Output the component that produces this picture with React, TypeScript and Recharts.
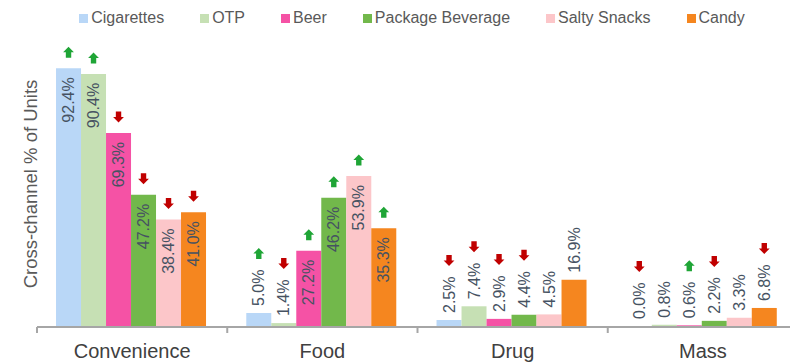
import React from 'react';
import { BarChart, Bar, XAxis, YAxis, LabelList } from 'recharts';

const categories = ['Convenience', 'Food', 'Drug', 'Mass'];

const seriesNames = ['Cigarettes', 'OTP', 'Beer', 'Package Beverage', 'Salty Snacks', 'Candy'];
const seriesColors = ['#B9D7F7', '#C6E0B4', '#F552A5', '#72B84B', '#FCC6C9', '#F5861F'];

const cigarettes = [92.4, 5.0, 2.5, 0.0];
const otp = [90.4, 1.4, 7.4, 0.8];
const beer = [69.3, 27.2, 2.9, 0.6];
const packageBeverage = [47.2, 46.2, 4.4, 2.2];
const saltySnacks = [38.4, 53.9, 4.5, 3.3];
const candy = [41.0, 35.3, 16.9, 6.8];

type Dir = 'up' | 'down' | null;
const cigarettesArrows: Dir[] = ['up', 'up', 'down', 'down'];
const otpArrows: Dir[] = ['up', 'down', 'down', null];
const beerArrows: Dir[] = ['down', 'up', 'down', 'up'];
const packageBeverageArrows: Dir[] = ['down', 'up', 'down', 'down'];
const saltySnacksArrows: Dir[] = ['down', 'up', null, null];
const candyArrows: Dir[] = ['down', 'up', null, 'down'];

const seriesValues = [cigarettes, otp, beer, packageBeverage, saltySnacks, candy];
const seriesArrows = [cigarettesArrows, otpArrows, beerArrows, packageBeverageArrows, saltySnacksArrows, candyArrows];
const keys = ['s0', 's1', 's2', 's3', 's4', 's5'];

const data = categories.map((name, i) => {
  const row: Record<string, any> = { name };
  keys.forEach((k, j) => {
    row[k] = seriesValues[j][i];
  });
  return row;
});

const FONT = '"Liberation Sans", Arial, sans-serif';
const CHART_W = 800;
const CHART_H = 362;
const X_H = 35;
const MARGIN = { top: 47, right: 2, bottom: 0, left: 0 };
const Y_W = 37;
const PLOT_BOTTOM = CHART_H - MARGIN.bottom - X_H;
const BAND = (CHART_W - MARGIN.left - MARGIN.right - Y_W) / categories.length;
const LABEL_SIZE = 16;

const fmt = (v: number) => v.toFixed(1) + '%';
const textLen = (s: string) => {
  let w = 0;
  for (const c of s) {
    if (c === '.') w += 0.278;
    else if (c === '%') w += 0.889;
    else w += 0.556;
  }
  return w * LABEL_SIZE;
};

const arrowPath = (cx: number, cy: number, dir: Dir) => {
  const hw = 5.4;
  const sw = 2.7;
  const h = 5.5;
  if (dir === 'up') {
    return `M${cx},${cy - h} L${cx + hw},${cy} L${cx + sw},${cy} L${cx + sw},${cy + h} L${cx - sw},${cy + h} L${cx - sw},${cy} L${cx - hw},${cy} Z`;
  }
  return `M${cx},${cy + h} L${cx + hw},${cy} L${cx + sw},${cy} L${cx + sw},${cy - h} L${cx - sw},${cy - h} L${cx - sw},${cy} L${cx - hw},${cy} Z`;
};

const makeLabel = (arrows: Dir[]) => (props: any) => {
  const { x, y, width, value, index } = props;
  const v = Number(value);
  const cx = Number(x) + Number(width) / 2;
  const top = Number(y);
  const s = fmt(v);
  const inside = v > 20;
  const ty = inside ? top + 9 : top - 7;
  const dir = arrows[index];
  const arrowCy = inside ? top - 16 : top - 7 - textLen(s) - 16;
  return (
    <g>
      <text
        x={cx}
        y={ty}
        transform={`rotate(-90, ${cx}, ${ty})`}
        textAnchor={inside ? 'end' : 'start'}
        dominantBaseline="central"
        fontFamily={FONT}
        fontSize={LABEL_SIZE}
        fill="#465262"
      >
        {s}
      </text>
      {dir && (
        <path d={arrowPath(cx, arrowCy, dir)} fill={dir === 'up' ? '#1FA536' : '#C00000'} />
      )}
    </g>
  );
};

const CategoryTick = (props: any) => {
  const { x, payload, index } = props;
  const cx = Number(x);
  const left = cx - BAND / 2;
  const right = cx + BAND / 2;
  return (
    <g>
      <line x1={left} y1={PLOT_BOTTOM} x2={left} y2={PLOT_BOTTOM + 6} stroke="#A6A6A6" strokeWidth={2} />
      {index === categories.length - 1 && (
        <line x1={right} y1={PLOT_BOTTOM} x2={right} y2={PLOT_BOTTOM + 6} stroke="#A6A6A6" strokeWidth={2} />
      )}
      <text x={cx} y={PLOT_BOTTOM + 31} textAnchor="middle" fontFamily={FONT} fontSize={20} fill="#404040">
        {payload.value}
      </text>
    </g>
  );
};

const YLabel = (props: any) => {
  const vb = props.viewBox || {};
  const cx = 30;
  const cy = Number(vb.y) + Number(vb.height) / 2 - 3;
  return (
    <text
      x={cx}
      y={cy}
      transform={`rotate(-90, ${cx}, ${cy})`}
      textAnchor="middle"
      dominantBaseline="central"
      fontFamily={FONT}
      fontSize={18.5}
      fill="#595959"
    >
      Cross-channel % of Units
    </text>
  );
};

export default function App() {
  return (
    <div
      style={{
        position: 'absolute',
        left: 0,
        top: 0,
        width: 790,
        height: 362,
        overflow: 'hidden',
        background: '#fff',
      }}
    >
      <div
        style={{
          position: 'absolute',
          left: 0,
          top: 9,
          width: 824,
          display: 'flex',
          justifyContent: 'center',
          gap: 36,
          fontFamily: FONT,
          fontSize: 16,
          color: '#595959',
          lineHeight: '18px',
          zIndex: 2,
        }}
      >
        {seriesNames.map((n, i) => (
          <div key={n} style={{ display: 'flex', alignItems: 'center', whiteSpace: 'nowrap' }}>
            <span style={{ display: 'inline-block', width: 9, height: 9, background: seriesColors[i], marginRight: 3 }} />
            <span>{n}</span>
          </div>
        ))}
      </div>
      <BarChart
        width={CHART_W}
        height={CHART_H}
        data={data}
        margin={MARGIN}
        barCategoryGap="10%"
        barGap={0}
      >
        <YAxis
          width={Y_W}
          domain={[0, 100]}
          axisLine={false}
          tickLine={false}
          tick={false}
          label={<YLabel />}
        />
        <XAxis
          dataKey="name"
          axisLine={{ stroke: '#A6A6A6', strokeWidth: 2 }}
          tickLine={false}
          tick={<CategoryTick />}
          height={X_H}
          interval={0}
        />
        {keys.map((k, j) => (
          <Bar
            key={k}
            dataKey={k}
            name={seriesNames[j]}
            fill={seriesColors[j]}
            minPointSize={1}
            isAnimationActive={false}
          >
            <LabelList dataKey={k} content={makeLabel(seriesArrows[j])} />
          </Bar>
        ))}
      </BarChart>
    </div>
  );
}
